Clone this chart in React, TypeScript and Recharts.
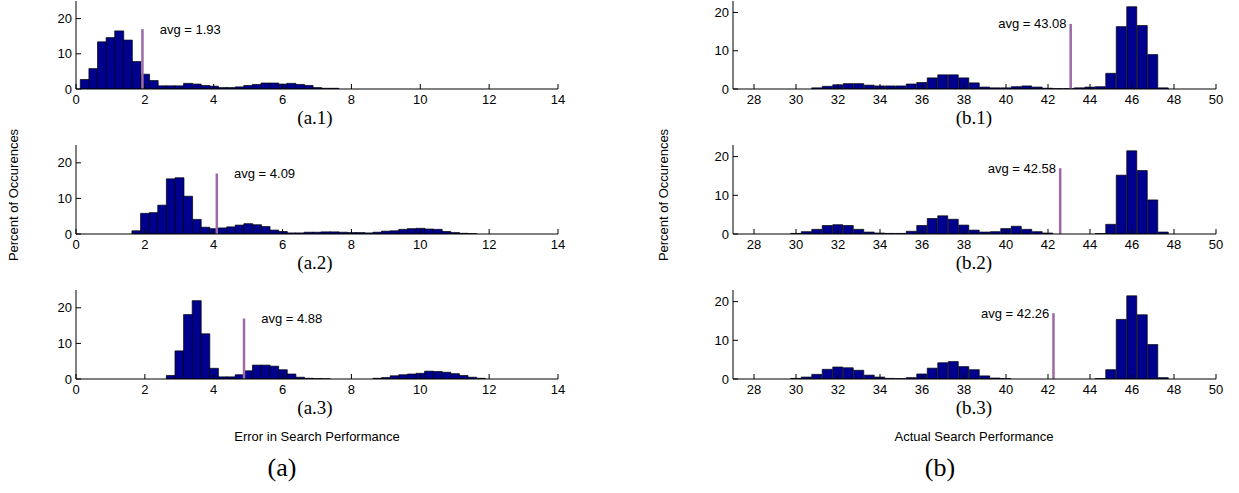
import { BarChart, Bar, XAxis, YAxis, ReferenceLine, ReferenceDot } from "recharts"

const FILL = "#00008f"
const AVG_COLOR = "#9b6aa7"
const SANS = "'Liberation Sans', Arial, Helvetica, sans-serif"
const SERIF = "'Liberation Serif', 'DejaVu Serif', serif"

// error histograms: bin width 0.25, first bin centre given
const a1Start = 0.25
const a1Values = [2.7, 5.8, 13.4, 14.6, 16.5, 13.9, 7.8, 4.2, 2.4, 0.9, 0.9, 0.9, 1.6, 1.4, 1.0, 0.8, 0.4, 0.4, 0.6, 1.0, 1.3, 1.7, 1.7, 1.4, 1.6, 1.3, 1.0, 0.4, 0.2, 0.2]
const a2Start = 1.75
const a2Values = [0.9, 5.8, 6.0, 8.1, 15.5, 15.8, 10.6, 4.1, 1.9, 1.5, 1.7, 2.0, 2.5, 2.9, 2.6, 2.1, 1.1, 0.7, 0.3, 0.3, 0.5, 0.5, 0.6, 0.6, 0.5, 0.4, 0.4, 0.3, 0.5, 0.8, 0.9, 1.3, 1.5, 1.6, 1.4, 1.3, 0.7, 0.4, 0.2, 0.1]
const a3Start = 2.75
const a3Values = [1.0, 7.9, 18.1, 22.0, 12.7, 3.0, 0.6, 0.6, 1.2, 2.3, 3.9, 3.9, 3.6, 2.6, 1.4, 0.5, 0.2, 0.1, 0.05, 0, 0, 0, 0, 0, 0.2, 0.4, 0.9, 1.2, 1.4, 1.6, 2.2, 2.1, 1.9, 1.5, 1.0, 0.5, 0.2]

// actual performance histograms: bin width 0.5
const b1Start = 31
const b1Values = [0.3, 0.7, 1.1, 1.4, 1.4, 1.0, 0.8, 0.8, 0.8, 1.3, 1.7, 2.9, 3.7, 3.7, 2.9, 1.6, 0.5, 0.3, 0.3, 0.6, 0.8, 0.5, 0.2, 0.1, 0.1, 0.3, 0.5, 0.6, 4.1, 16.3, 21.5, 16.6, 9.0, 0.3]
const b2Start = 30
const b2Values = [0.15, 0.6, 1.2, 2.2, 2.4, 2.2, 1.2, 0.5, 0.25, 0.15, 0.15, 0.7, 2.2, 4.0, 4.7, 3.8, 2.3, 1.0, 0.5, 0.6, 1.4, 2.0, 1.2, 0.6, 0.25, 0, 0, 0, 0, 0.1, 2.5, 15.2, 21.5, 16.4, 8.8, 0.5]
const b3Start = 30
const b3Values = [0.15, 0.5, 1.2, 2.5, 3.1, 2.9, 2.25, 1.0, 0.5, 0.15, 0.1, 0.35, 1.3, 2.8, 4.2, 4.5, 3.2, 2.4, 0.8, 0.25, 0.1, 0, 0, 0, 0, 0, 0, 0, 0, 0.1, 2.4, 15.4, 21.5, 16.6, 8.9, 0.35]

const errorTicks = [0, 2, 4, 6, 8, 10, 12, 14]
const perfTicks = [28, 30, 32, 34, 36, 38, 40, 42, 44, 46, 48, 50]
const pctTicks = [0, 10, 20]

const errorAvgs = [1.93, 4.09, 4.88]
const perfAvgs = [43.08, 42.58, 42.26]
const AVG_HEIGHT = 17

const bins = (start: number, width: number, values: number[]) =>
  values.map((v, i) => ({ x: start + i * width, pct: v }))

const YAXIS_W = 40
const XAXIS_H = 24
const RIGHT_PAD = 14
const TOP_PAD = 2

interface PanelProps {
  left: number
  top: number
  plotWidth: number
  plotHeight: number
  data: { x: number; pct: number }[]
  xDomain: [number, number]
  xTicks: number[]
  yMax: number
  avg: number
  side: "left" | "right"
}

function Panel({ left, top, plotWidth, plotHeight, data, xDomain, xTicks, yMax, avg, side }: PanelProps) {
  const tickStyle = { fill: "#000", fontSize: 13, fontFamily: SANS }
  const labelX = side === "right" ? avg + 0.5 : avg - 0.2
  return (
    <div style={{ position: "absolute", left: left - YAXIS_W, top: top - TOP_PAD }}>
      <BarChart
        width={YAXIS_W + plotWidth + RIGHT_PAD}
        height={plotHeight + XAXIS_H + TOP_PAD}
        data={data}
        margin={{ top: TOP_PAD, right: RIGHT_PAD, bottom: 0, left: 0 }}
        barCategoryGap={0}
        barGap={0}
      >
        <XAxis
          type="number"
          dataKey="x"
          domain={xDomain}
          ticks={xTicks}
          interval={0}
          allowDataOverflow
          height={XAXIS_H}
          tickSize={-5}
          tickMargin={11}
          stroke="#000"
          tick={tickStyle}
        />
        <XAxis
          xAxisId="top"
          orientation="top"
          type="number"
          dataKey="x"
          domain={xDomain}
          ticks={xTicks}
          interval={0}
          allowDataOverflow
          height={0}
          tickSize={-5}
          tick={false}
          stroke="#000"
        />
        <YAxis
          type="number"
          domain={[0, yMax]}
          ticks={pctTicks}
          interval={0}
          allowDataOverflow
          width={YAXIS_W}
          tickSize={-5}
          tickMargin={9}
          stroke="#000"
          tick={tickStyle}
        />
        <YAxis
          yAxisId="right"
          orientation="right"
          type="number"
          domain={[0, yMax]}
          ticks={pctTicks}
          interval={0}
          allowDataOverflow
          width={0}
          tickSize={-5}
          tick={false}
          stroke="#000"
        />
        <Bar dataKey="pct" fill={FILL} stroke="#000" strokeWidth={0.7} isAnimationActive={false} />
        <ReferenceLine
          segment={[{ x: avg, y: 0 }, { x: avg, y: AVG_HEIGHT }]}
          stroke={AVG_COLOR}
          strokeWidth={2.5}
        />
        <ReferenceDot
          x={labelX}
          y={AVG_HEIGHT}
          r={0}
          shape={(p: any) => (
            <text
              x={p.cx}
              y={p.cy}
              textAnchor={side === "right" ? "start" : "end"}
              dominantBaseline="central"
              fontSize={13}
              fontFamily={SANS}
              fill="#000"
            >
              {`avg = ${avg.toFixed(2)}`}
            </text>
          )}
        />
      </BarChart>
    </div>
  )
}

const LEFT_X = 76
const RIGHT_X = 733
const PLOT_W = 482
const ROW_TOPS = [1, 145, 290]
const ROW_H = [88, 89, 89]

const errorSets = [bins(a1Start, 0.25, a1Values), bins(a2Start, 0.25, a2Values), bins(a3Start, 0.25, a3Values)]
const perfSets = [bins(b1Start, 0.5, b1Values), bins(b2Start, 0.5, b2Values), bins(b3Start, 0.5, b3Values)]
const errorCaptions = ["(a.1)", "(a.2)", "(a.3)"]
const perfCaptions = ["(b.1)", "(b.2)", "(b.3)"]

export default function App() {
  return (
    <div style={{ position: "absolute", left: 0, top: 0, width: 1239, height: 493, background: "#fff", fontFamily: SANS }}>
      {ROW_TOPS.map((top, i) => (
        <Panel
          key={`a${i}`}
          left={LEFT_X}
          top={top}
          plotWidth={PLOT_W}
          plotHeight={ROW_H[i]}
          data={errorSets[i]}
          xDomain={[0, 14]}
          xTicks={errorTicks}
          yMax={25}
          avg={errorAvgs[i]}
          side="right"
        />
      ))}
      {ROW_TOPS.map((top, i) => (
        <Panel
          key={`b${i}`}
          left={RIGHT_X}
          top={top}
          plotWidth={PLOT_W + 1}
          plotHeight={ROW_H[i]}
          data={perfSets[i]}
          xDomain={[27, 50]}
          xTicks={perfTicks}
          yMax={23}
          avg={perfAvgs[i]}
          side="left"
        />
      ))}
      <svg width={1239} height={493} style={{ position: "absolute", left: 0, top: 0, pointerEvents: "none" }}>
        {ROW_TOPS.map((top, i) => (
          <g key={`cap${i}`} fontFamily={SERIF} fontSize={19} textAnchor="middle" fill="#000">
            <text x={LEFT_X + PLOT_W / 2 - 2} y={top + ROW_H[i] + 35}>{errorCaptions[i]}</text>
            <text x={RIGHT_X + PLOT_W / 2} y={top + ROW_H[i] + 35}>{perfCaptions[i]}</text>
          </g>
        ))}
        <text x={317} y={441} fontFamily={SANS} fontSize={13} textAnchor="middle">Error in Search Performance</text>
        <text x={974} y={441} fontFamily={SANS} fontSize={13} textAnchor="middle">Actual Search Performance</text>
        <text x={282} y={476} fontFamily={SERIF} fontSize={26} textAnchor="middle">(a)</text>
        <text x={940} y={476} fontFamily={SERIF} fontSize={26} textAnchor="middle">(b)</text>
        <text transform="translate(18,195) rotate(-90)" fontFamily={SANS} fontSize={13} textAnchor="middle">Percent of Occurences</text>
        <text transform="translate(668,195) rotate(-90)" fontFamily={SANS} fontSize={13} textAnchor="middle">Percent of Occurences</text>
      </svg>
    </div>
  )
}
